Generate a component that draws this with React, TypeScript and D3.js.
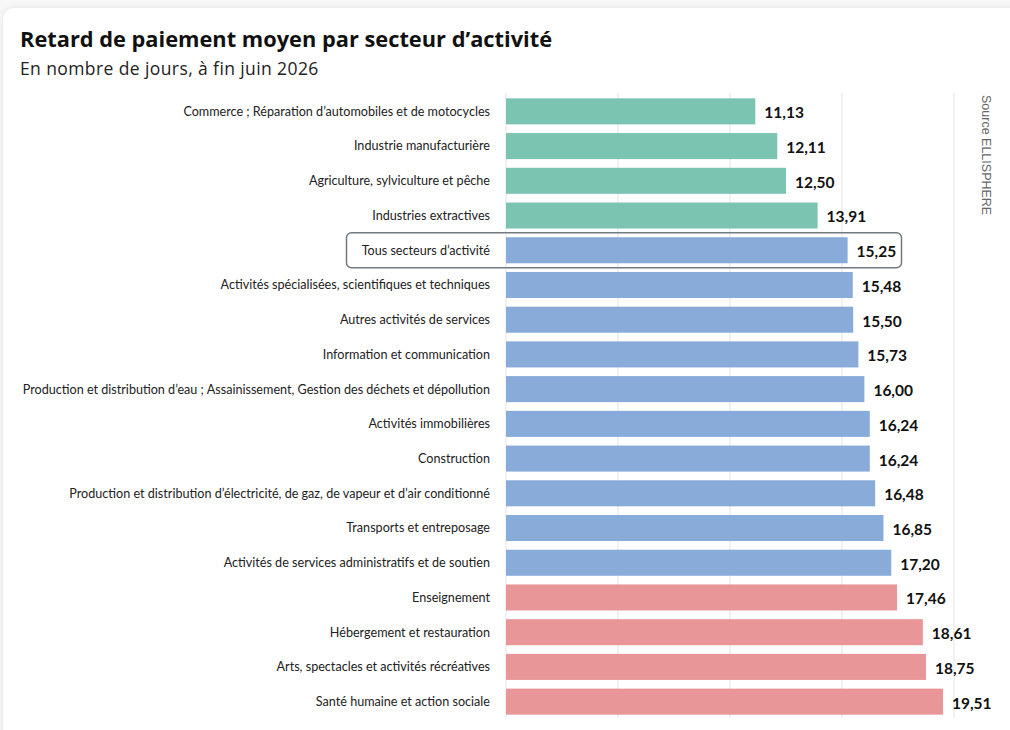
import React, { useRef, useEffect } from "react"
import * as d3 from "d3"

// sectors, top to bottom
const sectors = [
  "Commerce ; Réparation d’automobiles et de motocycles",
  "Industrie manufacturière",
  "Agriculture, sylviculture et pêche",
  "Industries extractives",
  "Tous secteurs d’activité",
  "Activités spécialisées, scientifiques et techniques",
  "Autres activités de services",
  "Information et communication",
  "Production et distribution d’eau ; Assainissement, Gestion des déchets et dépollution",
  "Activités immobilières",
  "Construction",
  "Production et distribution d’électricité, de gaz, de vapeur et d’air conditionné",
  "Transports et entreposage",
  "Activités de services administratifs et de soutien",
  "Enseignement",
  "Hébergement et restauration",
  "Arts, spectacles et activités récréatives",
  "Santé humaine et action sociale",
]
const delays = [
  11.13, 12.11, 12.5, 13.91, 15.25, 15.48, 15.5, 15.73, 16.0, 16.24, 16.24,
  16.48, 16.85, 17.2, 17.46, 18.61, 18.75, 19.51,
]
// group of each bar: low / mid / high
const groups = [
  "low", "low", "low", "low", "mid", "mid", "mid", "mid", "mid", "mid", "mid",
  "mid", "mid", "mid", "high", "high", "high", "high",
]
const gridTicks = [0, 5, 10, 15, 20]
const highlighted = "Tous secteurs d’activité"

const colors = { low: "#7bc4b2", mid: "#88abd9", high: "#e99698" }
const font = "Lato, 'Open Sans', sans-serif"
const titleFont = "'Open Sans', Lato, sans-serif"

const W = 1010
const H = 730

const App = () => {
  const ref = useRef(null)

  useEffect(() => {
    const svg = d3.select(ref.current)
    svg.selectAll("*").remove()

    const x = d3.scaleLinear().domain([0, 20]).range([506, 954])
    const y = d3.scaleBand().domain(sectors).range([94, 719]).paddingInner(0.25).paddingOuter(0.125)

    const defs = svg.append("defs")
    const f = defs.append("filter").attr("id", "shadow").attr("x", "-5%").attr("y", "-5%").attr("width", "110%").attr("height", "110%")
    f.append("feDropShadow").attr("dx", 0).attr("dy", 0).attr("stdDeviation", 3).attr("flood-color", "#000").attr("flood-opacity", 0.08)

    svg.append("rect").attr("width", W).attr("height", H).attr("fill", "#f7f7f7")
    svg.append("rect")
      .attr("x", 3).attr("y", 8).attr("width", W + 20).attr("height", H + 20)
      .attr("rx", 12).attr("fill", "#fff").attr("filter", "url(#shadow)")

    svg.append("text").attr("x", 20).attr("y", 47)
      .attr("font-family", titleFont).attr("font-weight", 700).attr("font-size", 21.8).attr("fill", "#111")
      .text("Retard de paiement moyen par secteur d’activité")
    svg.append("text").attr("x", 20).attr("y", 75)
      .attr("font-family", titleFont).attr("font-size", 17.5).attr("fill", "#222")
      .attr("letter-spacing", 0.4)
      .text("En nombre de jours, à fin juin 2026")

    // gridlines
    svg.append("g").selectAll("line").data(gridTicks).join("line")
      .attr("x1", d => x(d)).attr("x2", d => x(d))
      .attr("y1", 93).attr("y2", 718)
      .attr("stroke", "#e3e3e3").attr("stroke-width", 1)

    // highlight box
    svg.append("rect")
      .attr("x", 346.5).attr("y", y(highlighted) - 4.5)
      .attr("width", 555).attr("height", y.bandwidth() + 9)
      .attr("rx", 5).attr("fill", "none").attr("stroke", "#707a80").attr("stroke-width", 1.5)

    const rows = sectors.map((s, i) => ({ s, v: delays[i], g: groups[i] }))

    svg.append("g").selectAll("rect").data(rows).join("rect")
      .attr("x", x(0)).attr("y", d => y(d.s))
      .attr("width", d => x(d.v) - x(0)).attr("height", y.bandwidth())
      .attr("fill", d => colors[d.g])

    svg.append("g").selectAll("text").data(rows).join("text")
      .attr("x", 490).attr("y", d => y(d.s) + y.bandwidth() / 2)
      .attr("dy", "0.35em").attr("text-anchor", "end")
      .attr("font-family", font).attr("font-size", 12.6).attr("fill", "#222")
      .text(d => d.s)

    svg.append("g").selectAll("text").data(rows).join("text")
      .attr("x", d => x(d.v) + 9).attr("y", d => y(d.s) + y.bandwidth() / 2 + 1.5)
      .attr("dy", "0.35em")
      .attr("font-family", font).attr("font-weight", 700).attr("font-size", 15.5).attr("fill", "#111")
      .text(d => d3.format(".2f")(d.v).replace(".", ","))

    svg.append("text")
      .attr("transform", "translate(982,95) rotate(90)")
      .attr("font-family", "'Liberation Sans', Arial, sans-serif").attr("font-size", 12.5).attr("fill", "#666")
      .text("Source ELLISPHERE")
  }, [])

  return (
    <div style={{ position: "fixed", left: 0, top: 0 }}>
      <svg ref={ref} width={W} height={H} style={{ display: "block" }} />
    </div>
  )
}

export default App
